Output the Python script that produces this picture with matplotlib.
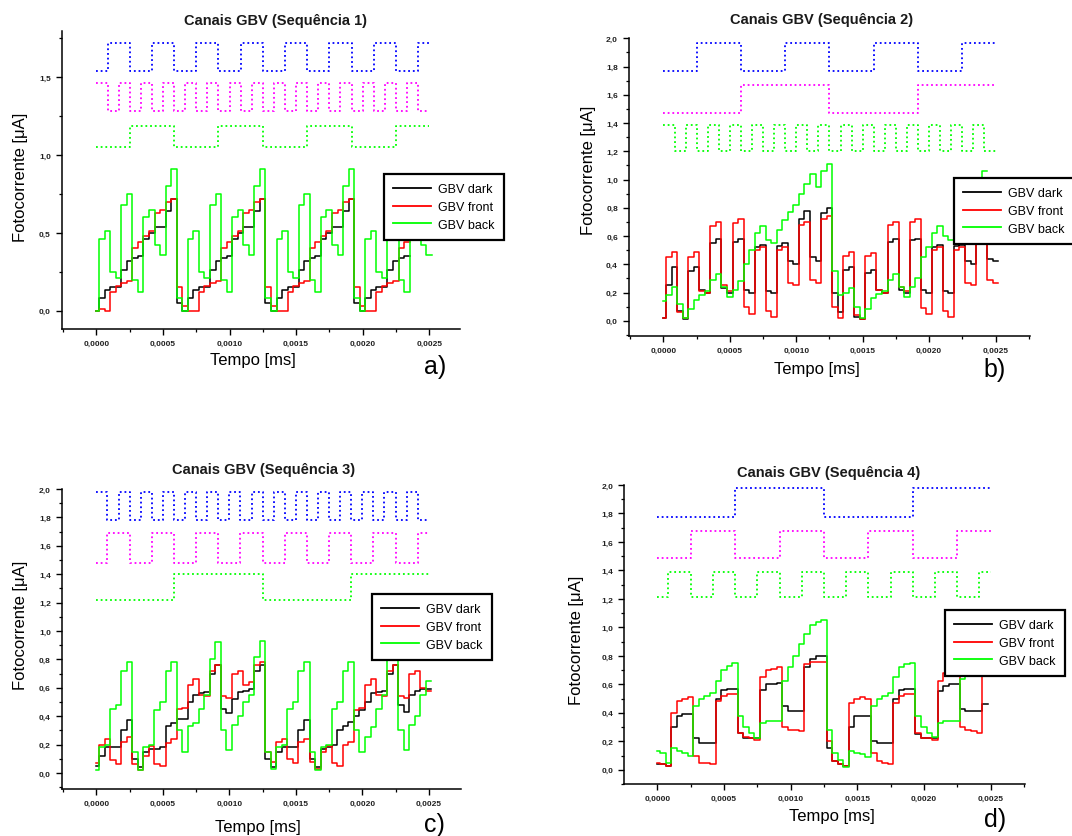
import numpy as np
import matplotlib
matplotlib.use("Agg")
import matplotlib.pyplot as plt
from matplotlib.ticker import MultipleLocator, FixedLocator, FixedFormatter
from matplotlib.lines import Line2D

plt.rcParams['font.family'] = ['Liberation Sans', 'DejaVu Sans']

# ---------------- data ----------------
T_END = 0.0025          # end of the sequence (ms)
N_SEG = 30              # time slots in the sequence
LAG = 0.00002           # response delay of the measured photocurrents

x_ticks = [0.0, 0.0005, 0.0010, 0.0015, 0.0020, 0.0025]
x_tick_labels = ['0,0000', '0,0005', '0,0010', '0,0015', '0,0020', '0,0025']
y_ticks_a = [0.0, 0.5, 1.0, 1.5]
y_tick_labels_a = ['0,0', '0,5', '1,0', '1,5']
y_ticks_bcd = [0.0, 0.2, 0.4, 0.6, 0.8, 1.0, 1.2, 1.4, 1.6, 1.8, 2.0]
y_tick_labels_bcd = ['0,0', '0,2', '0,4', '0,6', '0,8', '1,0', '1,2', '1,4', '1,6', '1,8', '2,0']

series_labels = ['GBV dark', 'GBV front', 'GBV back']
titles = ['Canais GBV (Sequência 1)', 'Canais GBV (Sequência 2)',
          'Canais GBV (Sequência 3)', 'Canais GBV (Sequência 4)']
panel_letters = ['a)', 'b)', 'c)', 'd)']
x_label = 'Tempo [ms]'
y_label = 'Fotocorrente [\u03bcA]'

# digital control channels: one state per time slot
bit0 = [1, 0, 1, 0, 1, 0, 1, 0, 1, 0, 1, 0, 1, 0, 1, 0, 1, 0, 1, 0, 1, 0, 1, 0, 1, 0, 1, 0, 1, 0]
bit1 = [0, 1, 1, 0, 0, 1, 1, 0, 0, 1, 1, 0, 0, 1, 1, 0, 0, 1, 1, 0, 0, 1, 1, 0, 0, 1, 1, 0, 0, 1]
bit2 = [0, 0, 0, 1, 1, 1, 1, 0, 0, 0, 0, 1, 1, 1, 1, 0, 0, 0, 0, 1, 1, 1, 1, 0, 0, 0, 0, 1, 1, 1]
bit3 = [0, 0, 0, 0, 0, 0, 0, 1, 1, 1, 1, 1, 1, 1, 1, 0, 0, 0, 0, 0, 0, 0, 0, 1, 1, 1, 1, 1, 1, 1]

# (channel bits, low level, high level) for blue / magenta / green traces
digital_a = [(bit1, 1.54, 1.72), (bit0, 1.285, 1.467), (bit2, 1.05, 1.19)]
digital_b = [(bit2, 1.77, 1.97), (bit3, 1.47, 1.67), (bit0, 1.20, 1.386)]
digital_c = [(bit0, 1.78, 1.98), (bit1, 1.48, 1.69), (bit3, 1.22, 1.40)]
digital_d = [(bit3, 1.776, 1.976), (bit2, 1.487, 1.68), (bit1, 1.216, 1.386)]

# photocurrents (uA): value at t=0, then two samples per time slot
start_a = (0.0, 0.0, 0.0)
dark_a = [0.08, 0.13, 0.15, 0.15, 0.26, 0.32, 0.34, 0.35, 0.46, 0.50, 0.54, 0.54, 0.64, 0.72, 0.05, 0.00,
          0.08, 0.13, 0.15, 0.15, 0.26, 0.32, 0.34, 0.35, 0.46, 0.50, 0.54, 0.54, 0.64, 0.72, 0.05, 0.00,
          0.08, 0.13, 0.15, 0.15, 0.26, 0.32, 0.34, 0.35, 0.46, 0.50, 0.54, 0.54, 0.64, 0.72, 0.05, 0.00,
          0.08, 0.13, 0.15, 0.15, 0.26, 0.32, 0.34, 0.35]
front_a = [0.01, 0.00, 0.12, 0.16, 0.18, 0.19, 0.40, 0.44, 0.48, 0.51, 0.63, 0.65, 0.70, 0.72, 0.15, 0.03,
           0.00, 0.00, 0.12, 0.16, 0.18, 0.19, 0.40, 0.44, 0.48, 0.51, 0.63, 0.65, 0.70, 0.72, 0.15, 0.03,
           0.00, 0.00, 0.12, 0.16, 0.18, 0.19, 0.40, 0.44, 0.48, 0.51, 0.63, 0.65, 0.70, 0.72, 0.15, 0.03,
           0.00, 0.00, 0.12, 0.16, 0.18, 0.19, 0.40, 0.44]
back_a = [0.46, 0.51, 0.25, 0.21, 0.68, 0.75, 0.20, 0.12, 0.60, 0.65, 0.42, 0.36, 0.80, 0.91, 0.08, 0.00,
          0.46, 0.51, 0.25, 0.21, 0.68, 0.75, 0.20, 0.12, 0.60, 0.65, 0.42, 0.36, 0.80, 0.91, 0.08, 0.00,
          0.46, 0.51, 0.25, 0.21, 0.68, 0.75, 0.20, 0.12, 0.60, 0.65, 0.42, 0.36, 0.80, 0.91, 0.08, 0.00,
          0.46, 0.51, 0.25, 0.21, 0.68, 0.75, 0.20, 0.12, 0.60, 0.65, 0.42, 0.36]

start_b = (0.02, 0.02, 0.14)
dark_b = [0.25, 0.38, 0.07, 0.01, 0.35, 0.38, 0.22, 0.20, 0.55, 0.58, 0.23, 0.20, 0.56, 0.58, 0.22, 0.20,
          0.52, 0.54, 0.21, 0.20, 0.53, 0.55, 0.42, 0.40, 0.72, 0.78, 0.45, 0.42, 0.76, 0.80, 0.20, 0.06,
          0.36, 0.38, 0.03, 0.01, 0.34, 0.36, 0.22, 0.20, 0.56, 0.58, 0.22, 0.20, 0.57, 0.58, 0.22, 0.20,
          0.52, 0.54, 0.21, 0.20, 0.53, 0.54, 0.42, 0.40, 0.60, 0.60, 0.44, 0.42]
front_b = [0.45, 0.49, 0.06, 0.02, 0.45, 0.49, 0.21, 0.20, 0.67, 0.70, 0.25, 0.21, 0.69, 0.72, 0.10, 0.05,
           0.50, 0.52, 0.07, 0.03, 0.50, 0.52, 0.27, 0.25, 0.68, 0.70, 0.29, 0.27, 0.72, 0.74, 0.10, 0.02,
           0.46, 0.49, 0.04, 0.01, 0.46, 0.48, 0.22, 0.20, 0.68, 0.70, 0.24, 0.21, 0.70, 0.72, 0.09, 0.05,
           0.50, 0.52, 0.07, 0.03, 0.50, 0.52, 0.27, 0.25, 0.68, 0.70, 0.29, 0.27]
back_b = [0.18, 0.24, 0.12, 0.02, 0.08, 0.15, 0.18, 0.21, 0.29, 0.33, 0.24, 0.17, 0.22, 0.28, 0.40, 0.50,
          0.62, 0.67, 0.57, 0.55, 0.64, 0.71, 0.77, 0.82, 0.90, 0.97, 1.04, 0.95, 1.06, 1.11, 0.35, 0.18,
          0.20, 0.23, 0.10, 0.02, 0.08, 0.16, 0.19, 0.21, 0.29, 0.33, 0.24, 0.17, 0.24, 0.30, 0.45, 0.52,
          0.62, 0.67, 0.60, 0.57, 0.64, 0.72, 0.80, 0.86, 0.95, 1.06]

start_c = (0.05, 0.07, 0.02)
dark_c = [0.12, 0.18, 0.18, 0.18, 0.30, 0.37, 0.10, 0.04, 0.15, 0.17, 0.17, 0.18, 0.33, 0.35, 0.38, 0.38,
          0.50, 0.55, 0.56, 0.57, 0.70, 0.76, 0.45, 0.42, 0.52, 0.57, 0.58, 0.59, 0.72, 0.76, 0.10, 0.04,
          0.15, 0.18, 0.18, 0.18, 0.30, 0.37, 0.10, 0.04, 0.17, 0.18, 0.20, 0.30, 0.33, 0.36, 0.40, 0.44,
          0.50, 0.56, 0.57, 0.58, 0.70, 0.76, 0.48, 0.43, 0.55, 0.58, 0.59, 0.59]
front_c = [0.20, 0.24, 0.09, 0.06, 0.22, 0.25, 0.06, 0.02, 0.12, 0.19, 0.06, 0.05, 0.21, 0.24, 0.45, 0.46,
           0.62, 0.66, 0.55, 0.54, 0.72, 0.76, 0.54, 0.53, 0.70, 0.72, 0.62, 0.64, 0.76, 0.78, 0.15, 0.08,
           0.22, 0.24, 0.10, 0.07, 0.22, 0.24, 0.08, 0.03, 0.15, 0.19, 0.07, 0.05, 0.20, 0.22, 0.44, 0.46,
           0.62, 0.66, 0.55, 0.54, 0.72, 0.76, 0.54, 0.53, 0.70, 0.72, 0.60, 0.58]
back_c = [0.18, 0.20, 0.45, 0.48, 0.72, 0.78, 0.15, 0.02, 0.18, 0.20, 0.44, 0.50, 0.72, 0.78, 0.30, 0.15,
          0.33, 0.35, 0.45, 0.55, 0.80, 0.92, 0.30, 0.16, 0.34, 0.40, 0.50, 0.55, 0.82, 0.93, 0.15, 0.03,
          0.18, 0.20, 0.45, 0.50, 0.72, 0.78, 0.15, 0.02, 0.18, 0.20, 0.45, 0.50, 0.72, 0.78, 0.30, 0.15,
          0.25, 0.32, 0.45, 0.55, 0.80, 0.92, 0.30, 0.16, 0.34, 0.40, 0.55, 0.65]

start_d = (0.04, 0.05, 0.13)
dark_d = [0.04, 0.03, 0.30, 0.38, 0.39, 0.39, 0.22, 0.19, 0.19, 0.19, 0.50, 0.56, 0.57, 0.57, 0.26, 0.22,
          0.22, 0.22, 0.56, 0.60, 0.60, 0.61, 0.45, 0.41, 0.41, 0.41, 0.72, 0.78, 0.80, 0.80, 0.15, 0.06,
          0.04, 0.03, 0.30, 0.38, 0.38, 0.38, 0.20, 0.19, 0.19, 0.19, 0.50, 0.56, 0.57, 0.57, 0.25, 0.22,
          0.22, 0.22, 0.55, 0.59, 0.60, 0.60, 0.43, 0.41, 0.41, 0.41, 0.46]
front_d = [0.04, 0.03, 0.40, 0.48, 0.50, 0.51, 0.10, 0.05, 0.05, 0.04, 0.48, 0.52, 0.53, 0.53, 0.26, 0.23,
           0.22, 0.21, 0.65, 0.70, 0.71, 0.72, 0.30, 0.28, 0.28, 0.27, 0.74, 0.76, 0.76, 0.76, 0.20, 0.06,
           0.04, 0.03, 0.47, 0.50, 0.51, 0.50, 0.12, 0.06, 0.05, 0.04, 0.47, 0.52, 0.53, 0.53, 0.26, 0.22,
           0.22, 0.21, 0.62, 0.68, 0.68, 0.68, 0.30, 0.28, 0.27, 0.26, 0.66]
back_d = [0.12, 0.05, 0.15, 0.13, 0.12, 0.10, 0.45, 0.50, 0.52, 0.54, 0.62, 0.70, 0.73, 0.75, 0.38, 0.30,
          0.26, 0.22, 0.33, 0.34, 0.34, 0.34, 0.62, 0.72, 0.80, 0.88, 0.95, 1.02, 1.04, 1.05, 0.28, 0.12,
          0.07, 0.02, 0.13, 0.12, 0.11, 0.09, 0.45, 0.50, 0.52, 0.54, 0.65, 0.72, 0.74, 0.75, 0.38, 0.30,
          0.26, 0.23, 0.33, 0.34, 0.34, 0.34, 0.64, 0.72, 0.82, 0.90]

# ---------------- layout ----------------
W, H = 1072, 837
fig = plt.figure(figsize=(W / 100, H / 100), dpi=100)

def fx(px):
    return px / W

def fy(py):
    return 1 - py / H

panels = [
    dict(rect=[0.0578, 0.6057, 0.3711, 0.3564], xlim=(-0.000259, 0.00273), ylim=(-0.118, 1.80),
         yt=y_ticks_a, ytl=y_tick_labels_a, yminor=0.25, dig=digital_a, start=start_a,
         ana=(dark_a, front_a, back_a), title=(275, 21), xl=(253, 360), yl=(21, 177),
         letter=(435, 367), leg=(384, 175)),
    dict(rect=[0.5868, 0.5977, 0.3736, 0.3553], xlim=(-0.000259, 0.002756), ylim=(-0.106, 2.0),
         yt=y_ticks_bcd, ytl=y_tick_labels_bcd, yminor=0.1, dig=digital_b, start=start_b,
         ana=(dark_b, front_b, back_b), title=(822, 20), xl=(817, 370), yl=(589, 170),
         letter=(995, 370), leg=(954, 179)),
    dict(rect=[0.0578, 0.0562, 0.3727, 0.3584], xlim=(-0.000259, 0.002746), ylim=(-0.113, 2.0),
         yt=y_ticks_bcd, ytl=y_tick_labels_bcd, yminor=0.1, dig=digital_c, start=start_c,
         ana=(dark_c, front_c, back_c), title=(264, 470), xl=(258, 828), yl=(21, 625),
         letter=(434, 825), leg=(372, 595)),
    dict(rect=[0.5824, 0.0621, 0.3733, 0.3573], xlim=(-0.000248, 0.002755), ylim=(-0.10, 2.0),
         yt=y_ticks_bcd, ytl=y_tick_labels_bcd, yminor=0.1, dig=digital_d, start=start_d,
         ana=(dark_d, front_d, back_d), title=(829, 473), xl=(832, 817), yl=(577, 640),
         letter=(995, 820), leg=(945, 611)),
]

dig_colors = ['#0000ff', '#ff00ff', '#00ff00']
ana_colors = ['#000000', '#ff0000', '#00ff00']
seg = T_END / N_SEG

for i, p in enumerate(panels):
    ax = fig.add_axes(p['rect'])
    # digital channels
    for (bits, lo, hi), col in zip(p['dig'], dig_colors):
        vals = np.where(np.array(bits) == 1, hi, lo)
        t = seg * np.arange(len(vals) + 1)
        ax.step(t, np.append(vals, vals[-1]), where='post', color=col,
                lw=1.3, linestyle=(0, (1, 1.6)))
    # photocurrents
    handles = []
    for vals, v0, col, lab in zip(p['ana'], p['start'], ana_colors, series_labels):
        vals = np.array(vals)
        h = seg / 2
        t = np.concatenate([[0.0], LAG + h * np.arange(len(vals) + 1)])
        v = np.concatenate([[v0], vals, [vals[-1]]])
        ax.step(t, v, where='post', color=col, lw=1.1)
        handles.append(Line2D([], [], color=col, lw=1.3, label=lab))

    ax.set_xlim(*p['xlim'])
    ax.set_ylim(*p['ylim'])
    for s in ['top', 'right']:
        ax.spines[s].set_visible(False)
    for s in ['left', 'bottom']:
        ax.spines[s].set_linewidth(1.1)
    ax.xaxis.set_major_locator(FixedLocator(x_ticks))
    ax.xaxis.set_major_formatter(FixedFormatter(x_tick_labels))
    ax.xaxis.set_minor_locator(MultipleLocator(0.00025))
    ax.yaxis.set_major_locator(FixedLocator(p['yt']))
    ax.yaxis.set_major_formatter(FixedFormatter(p['ytl']))
    ax.yaxis.set_minor_locator(MultipleLocator(p['yminor']))
    ax.tick_params(which='major', direction='out', length=4, width=1.0, pad=4,
                   labelsize=6, labelcolor='#222222')
    ax.tick_params(which='minor', direction='out', length=2.5, width=0.9)
    for lab in ax.get_xticklabels() + ax.get_yticklabels():
        lab.set_fontweight('bold')

    fig.text(fx(p['title'][0]), fy(p['title'][1]), titles[i], ha='center', va='center',
             fontsize=10.5, fontweight='bold', color='#1a1a1a')
    fig.text(fx(p['xl'][0]), fy(p['xl'][1]), x_label, ha='center', va='center', fontsize=12)
    fig.text(fx(p['yl'][0]), fy(p['yl'][1]), y_label, ha='center', va='center',
             fontsize=12, rotation=90)
    fig.text(fx(p['letter'][0]), fy(p['letter'][1]), panel_letters[i], ha='center',
             va='center', fontsize=18)

    leg = ax.legend(handles=handles, loc='upper left',
                    bbox_to_anchor=(fx(p['leg'][0]), fy(p['leg'][1])),
                    bbox_transform=fig.transFigure, fontsize=9, frameon=True,
                    fancybox=False, framealpha=1.0, edgecolor='black',
                    borderpad=0.75, handlelength=3.0, handletextpad=0.6,
                    labelspacing=0.45, borderaxespad=0)
    leg.get_frame().set_linewidth(1.6)
    leg.set_zorder(10)

fig.savefig('out.png', dpi=100)
